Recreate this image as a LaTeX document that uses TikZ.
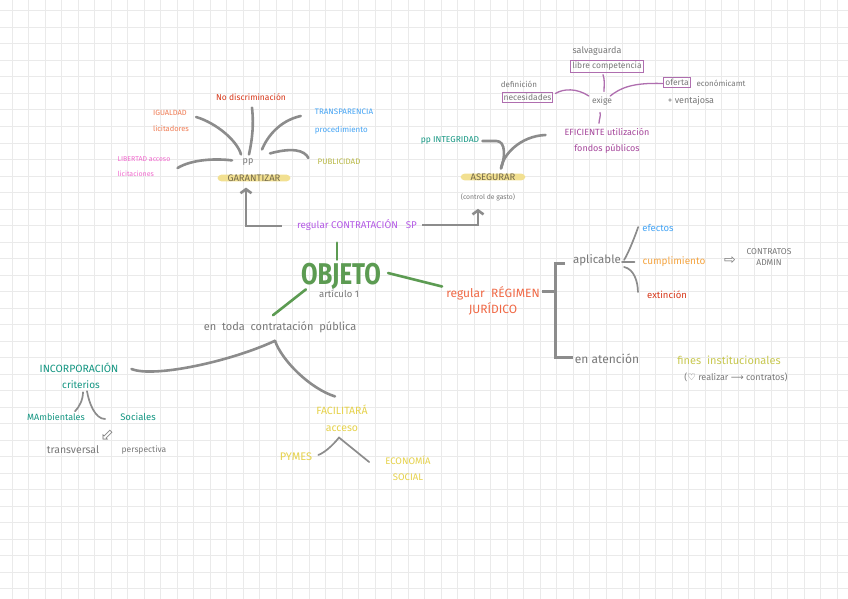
\documentclass[tikz,border=0pt]{standalone}
\usepackage{fontspec}
\setmainfont{Fira Sans}
\newfontfamily\symfont{DejaVu Sans}
\newfontfamily\tallfont[FakeStretch=0.8]{Fira Sans}
\usepackage{tikz}
\usetikzlibrary{arrows.meta,positioning,calc}
\definecolor{inkgray}{RGB}{120,120,120}
\definecolor{linegray}{RGB}{140,140,140}
\definecolor{gridgray}{RGB}{234,234,234}
\definecolor{hlyellow}{RGB}{242,224,145}
\definecolor{hltext}{RGB}{115,105,75}
\definecolor{objgreen}{RGB}{92,155,82}
\definecolor{inkred}{RGB}{215,55,25}
\definecolor{inksalmon}{RGB}{240,125,85}
\definecolor{inkblue}{RGB}{70,165,245}
\definecolor{inkpink}{RGB}{240,105,205}
\definecolor{inkolive}{RGB}{185,185,70}
\definecolor{inkpurple}{RGB}{180,90,230}
\definecolor{inkteal}{RGB}{20,150,130}
\definecolor{inkmagenta}{RGB}{165,70,155}
\definecolor{boxmagenta}{RGB}{175,110,175}
\definecolor{inkorange}{RGB}{240,105,70}
\definecolor{inkamber}{RGB}{245,165,65}
\definecolor{inklime}{RGB}{200,200,80}
\definecolor{inkyellow}{RGB}{230,210,75}

\begin{document}
\begin{tikzpicture}[x=1pt, y=-1pt,
  font=\fontsize{8}{10}\selectfont,
  lbl/.style={inner sep=1pt, text=#1, align=center},
  lbl/.default=inkgray,
  hilite/.style={fill=hlyellow, text=hltext, rounded corners=4pt, inner xsep=10pt,
                 inner ysep=0pt, font=\fontsize{9.5}{10}\selectfont},
  mbox/.style={draw=boxmagenta, line width=1pt, inner sep=1.5pt, text=inkgray},
  gline/.style={linegray, line width=2.6pt, line cap=round},
  tline/.style={linegray, line width=1.7pt, line cap=round},
  mline/.style={boxmagenta, line width=1.3pt, line cap=round},
  grnline/.style={objgreen, line width=2.6pt, line cap=round},
  garrow/.style={gline, line cap=butt, -{Straight Barb[length=4pt,width=11pt]}},
  bracket/.style={linegray, line width=3pt}
]
% Paper
\useasboundingbox (0,0) rectangle (848,599);
\fill[white] (0,0) rectangle (848,599);
\begin{scope}
\clip (0,0) rectangle (848,599);
\foreach \k in {0,...,51} \draw[gridgray, line width=1pt] (12+16.5*\k,0) -- ++(0,599);
\foreach \k in {0,...,36} \draw[gridgray, line width=1pt] (0,11+16.5*\k) -- ++(848,0);
\end{scope}

% Centre
\node[lbl=objgreen, font=\tallfont\fontsize{30}{30}\selectfont\bfseries] (objeto) at (341,276) {OBJETO};
\node[lbl, font=\fontsize{9.5}{10}\selectfont] (articulo) at (339,294) {artículo 1};

% Upper branch
\node[lbl=inkpurple, font=\fontsize{9.8}{10}\selectfont] (contratacion) at (357,225) {regular CONTRATACIÓN\ \ \ SP};
\node[lbl, font=\fontsize{9}{10}\selectfont] (ppG) at (248,162) {pp};
\node[hilite] (garantizar) at (254,178) {GARANTIZAR};
\node[hilite] (asegurar) at (493,177) {ASEGURAR};
\node[lbl, font=\fontsize{6.8}{7}\selectfont] (control) at (488,197) {(control de gasto)};

\draw[grnline] ($(contratacion.south)+(-20,11)$) -- ($(objeto.north)+(-4,-2)$);
\draw[garrow] ($(contratacion.west)+(-14,1)$) -| ($(garantizar.south)+(-8,6)$);
\draw[garrow] ($(contratacion.east)+(4,0)$) -| ($(control.south)+(-10,7)$);

% GARANTIZAR spokes
\node[lbl=inkred, font=\fontsize{8.5}{9}\selectfont] (nodisc) at (251,97) {No discriminación};
\node[lbl=inksalmon, align=left, font=\fontsize{7.5}{16}\selectfont] (igualdad) at (171,121) {IGUALDAD\\licitadores};
\node[lbl=inkblue, align=left, font=\fontsize{8}{18}\selectfont] (transp) at (344,122) {TRANSPARENCIA\\procedimiento};
\node[lbl=inkpink, align=left, font=\fontsize{7}{15}\selectfont] (libertad) at (144,167) {LIBERTAD acceso\\licitaciones};
\node[lbl=inkolive, font=\fontsize{8}{9}\selectfont] (publicidad) at (339,162) {PUBLICIDAD};

\draw[gline] ($(igualdad.east)+(6,-4)$) .. controls +(20,6) and +(-4,-14) .. ($(ppG.north)+(-7,-3)$);
\draw[gline] ($(nodisc.south)+(1,6)$) .. controls +(2,18) and +(3,-14) .. ($(ppG.north)+(1,-3)$);
\draw[gline] ($(transp.west)+(-13,-6)$) .. controls +(-22,5) and +(5,-12) .. ($(ppG.north)+(14,-8)$);
\draw[gline] ($(ppG.north)+(22,-4)$) .. controls +(22,-6) and +(-4,-8) .. ($(publicidad.west)+(-8,-4)$);
\draw[gline] ($(libertad.east)+(6,1)$) .. controls +(15,-9) and +(-15,-2) .. ($(ppG.north)+(-16,3)$);

% ASEGURAR spokes
\node[lbl=inkteal, font=\fontsize{8.5}{9}\selectfont] (integridad) at (450,140) {pp INTEGRIDAD};
\node[lbl=inkmagenta, font=\fontsize{9}{16}\selectfont] (eficiente) at (607,141) {EFICIENTE utilización\\fondos públicos};

\draw[gline] ($(integridad.east)+(2,1)$) -- ++(14,0) .. controls +(10,0) and +(4,-10) .. ($(asegurar.north)+(8,-5)$);
\draw[gline] ($(eficiente.west)+(-18,-6)$) .. controls +(-25,1) and +(2,-14) .. ($(asegurar.north)+(8,-5)$);

% exige
\node[lbl, font=\fontsize{8.5}{9}\selectfont] (exige) at (602,101) {exige};
\node[lbl, font=\fontsize{9}{10}\selectfont] (salva) at (597,51) {salvaguarda};
\node[mbox, font=\fontsize{8.5}{9}\selectfont] (libre) at (607,66.5) {libre competencia};
\node[lbl, font=\fontsize{8}{9}\selectfont] (definicion) at (519,84) {definición};
\node[mbox, font=\fontsize{8.5}{9}\selectfont] (necesidades) at (527.5,97.5) {necesidades};
\node[mbox, font=\fontsize{8.5}{9}\selectfont] (oferta) at (677,82.5) {oferta};
\node[lbl, font=\fontsize{8}{9}\selectfont] (economic) at (721,83) {económicamt};
\node[lbl, font=\fontsize{9}{10}\selectfont] (ventajosa) at (691,101) {+ ventajosa};

\draw[mline] ($(libre.south)+(-4,2)$) .. controls +(2,5) and +(0,-6) .. ($(exige.north)+(2,-4)$);
\draw[mline] ($(necesidades.east)+(2,-4)$) .. controls +(8,-5) and +(-12,-8) .. ($(exige.west)+(-2,-5)$);
\draw[mline] ($(oferta.west)+(-1,1)$) .. controls +(-30,-1) and +(10,-8) .. ($(exige.east)+(-3,-5)$);
\draw[mline] ($(exige.south)+(-2,6)$) .. controls +(1,4) and +(0,-4) .. ($(eficiente.north)+(-8,-4)$);

% Right branch
\node[lbl=inkorange, font=\fontsize{12}{16}\selectfont] (regimen) at (493,301) {regular\ \ RÉGIMEN\\JURÍDICO};
\node[lbl, font=\fontsize{11.5}{12}\selectfont] (aplicable) at (597,260) {aplicable};
\node[lbl, font=\fontsize{12}{13}\selectfont] (atencion) at (607,359) {en atención};
\coordinate (brace) at (555,291);

\draw[grnline] ($(objeto.east)+(6,-3)$) -- ($(regimen.north west)+(-3,1)$);
\draw[bracket] ($(regimen.east)+(1,-10)$) -- (brace);
\draw[bracket] ($(brace |- aplicable)+(10,3)$) -- ($(brace |- aplicable)+(0,3)$) -- ($(brace |- atencion)+(0,-2)$) -- ++(18,0);

\node[lbl=inkblue, font=\fontsize{9.5}{10}\selectfont] (efectos) at (658,228) {efectos};
\node[lbl=inkamber, font=\fontsize{10}{11}\selectfont] (cumpl) at (674,262) {cumplimiento};
\node[lbl=inkred, font=\fontsize{9.5}{10}\selectfont] (extincion) at (667,295) {extinción};
\node[lbl, font=\symfont\fontsize{14}{14}\selectfont] (dblarrow) at (730,261) {⇨};
\node[lbl, font=\fontsize{8.5}{11}\selectfont] (admin) at (769,257) {CONTRATOS\\ADMIN};

\draw[tline] ($(aplicable.east)+(2,0)$) .. controls +(5,-8) and +(-2,6) .. ($(efectos.west)+(-3,-1)$);
\draw[tline] ($(aplicable.east)+(0,2)$) -- ($(cumpl.west)+(-7,0)$);
\draw[tline] ($(aplicable.east)+(2,7)$) .. controls +(10,2) and +(0,-10) .. ($(extincion.west)+(-8,-3)$);

\node[lbl=inklime, font=\fontsize{11}{12}\selectfont] (fines) at (729,360) {fines\ \ institucionales};
\node[lbl, font=\fontsize{9}{9}\selectfont] (realizar) at (736,377) {({\symfont\fontsize{9.5}{9}\selectfont ♡} realizar {\symfont ⟶} contratos)};

% Lower branch
\node[lbl, font=\fontsize{11}{12}\selectfont] (toda) at (280,327) {en\ \ toda\ \ contratación\ \ pública};
\coordinate (split) at ($(toda.south)+(-5,7)$);
\draw[grnline] ($(objeto.south west)+(6,-1)$) -- ($(toda.north)+(-7,-5)$);

\node[lbl=inkteal, font=\fontsize{10.5}{11}\selectfont] (incorp) at (79,368) {INCORPORACIÓN};
\node[lbl=inkteal, font=\fontsize{10}{11}\selectfont] (criterios) at (81,385) {criterios};
\node[lbl=inkteal, font=\fontsize{9}{10}\selectfont] (ambientales) at (56,417) {MAmbientales};
\node[lbl=inkteal, font=\fontsize{9.5}{10}\selectfont] (sociales) at (138,417) {Sociales};
\node[lbl, font=\symfont\fontsize{16}{16}\selectfont, rotate=225] (hollow) at (107,435) {⇨};
\node[lbl, font=\fontsize{10.5}{11}\selectfont] (transversal) at (73,450) {transversal};
\node[lbl, font=\fontsize{8.5}{9}\selectfont] (perspectiva) at (144,450) {perspectiva};

\draw[gline] (split) .. controls +(-45,21) and +(22,9) .. ($(incorp.east)+(12,1)$);
\draw[tline] ($(criterios.south)+(2,2)$) .. controls +(0,8) and +(4,-4) .. ($(ambientales.north)+(19,-1)$);
\draw[tline] ($(criterios.south)+(6,1)$) .. controls +(2,12) and +(-10,0) .. ($(sociales.west)+(-14,2)$);

\node[lbl=inkyellow, font=\fontsize{10.5}{17}\selectfont] (facilitara) at (342,418) {FACILITARÁ\\acceso};
\node[lbl=inkyellow, font=\fontsize{11}{12}\selectfont] (pymes) at (296,457) {PYMES};
\node[lbl=inkyellow, font=\fontsize{9.5}{16}\selectfont] (economia) at (408,468) {ECONOMÍA\\SOCIAL};

\draw[gline] (split) .. controls +(7,20) and +(-25,-8) .. ($(facilitara.north)+(-7,-7)$);
\draw[tline] ($(pymes.east)+(5,-2)$) .. controls +(8,-3) and +(-4,5) .. ($(facilitara.south)+(-3,5)$) -- ($(economia.west)+(-15,-6)$);
\end{tikzpicture}
\end{document}
